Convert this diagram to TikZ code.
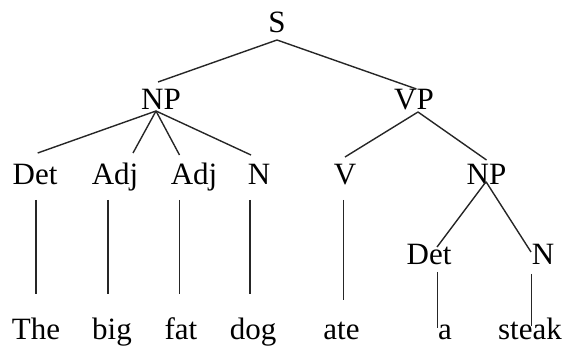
\documentclass[tikz,border=0pt]{standalone}
\usepackage{fontspec}
\setmainfont{Liberation Serif}
\begin{document}
\begin{tikzpicture}[x=1pt,y=-1pt,
  lbl/.style={anchor=base,inner sep=0pt,font=\fontsize{31}{34}\selectfont},
  edge/.style={line width=1.4pt,black!85}]
\useasboundingbox (0,0) rectangle (563,347);
% nodes
\node[lbl] (S) at (277,33) {S};
\node[lbl] (NPa) at (161,110) {NP};
\node[lbl] (VP) at (414,110) {VP};
\node[lbl] (Deta) at (35,185) {Det};
\node[lbl] (Adja) at (115,185) {Adj};
\node[lbl] (Adjb) at (194,185) {Adj};
\node[lbl] (Na) at (259,185) {N};
\node[lbl] (V) at (345,185) {V};
\node[lbl] (NPb) at (486.5,185) {NP};
\node[lbl] (Detb) at (429,265) {Det};
\node[lbl] (Nb) at (543,265) {N};
\node[lbl] (w1) at (36,340) {The};
\node[lbl] (w2) at (112,340) {big};
\node[lbl] (w3) at (181,340) {fat};
\node[lbl] (w4) at (253,340) {dog};
\node[lbl] (w5) at (341.5,340) {ate};
\node[lbl] (w6) at (445,340) {a};
\node[lbl] (w7) at (530,340) {steak};
% edges
\draw[edge] ([shift={(0,7)}]S.base) -- ([shift={(-3,-28)}]NPa.base);
\draw[edge] ([shift={(0,7)}]S.base) -- ([shift={(2.5,-21)}]VP.base);
\draw[edge] ([shift={(-5,1)}]NPa.base) -- ([shift={(2.7,-32)}]Deta.base);
\draw[edge] ([shift={(-5,1)}]NPa.base) -- ([shift={(18,-32)}]Adja.base);
\draw[edge] ([shift={(-5,1)}]NPa.base) -- ([shift={(-14.5,-30)}]Adjb.base);
\draw[edge] ([shift={(-5,1)}]NPa.base) -- ([shift={(-8,-30)}]Na.base);
\draw[edge] ([shift={(4,2)}]VP.base) -- ([shift={(0,-28)}]V.base);
\draw[edge] ([shift={(4,2)}]VP.base) -- ([shift={(0,-25)}]NPb.base);
\draw[edge] ([shift={(-0.5,-3.3)}]NPb.base) -- ([shift={(8,-18)}]Detb.base);
\draw[edge] ([shift={(-0.5,-3.3)}]NPb.base) -- ([shift={(-12,-13)}]Nb.base);
\draw[edge] ([shift={(1,15)}]Deta.base) -- ([shift={(0,-46)}]w1.base);
\draw[edge] ([shift={(-7,15)}]Adja.base) -- ([shift={(-4,-46)}]w2.base);
\draw[edge] ([shift={(-14.5,15)}]Adjb.base) -- ([shift={(-1.5,-46)}]w3.base);
\draw[edge] ([shift={(-9,15)}]Na.base) -- ([shift={(-3,-46)}]w4.base);
\draw[edge] ([shift={(-1.5,15)}]V.base) -- ([shift={(2,-40)}]w5.base);
\draw[edge] ([shift={(8.3,7)}]Detb.base) -- ([shift={(-7.7,-12)}]w6.base);
\draw[edge] ([shift={(-11.6,9)}]Nb.base) -- ([shift={(1.4,-14)}]w7.base);
\end{tikzpicture}
\end{document}
